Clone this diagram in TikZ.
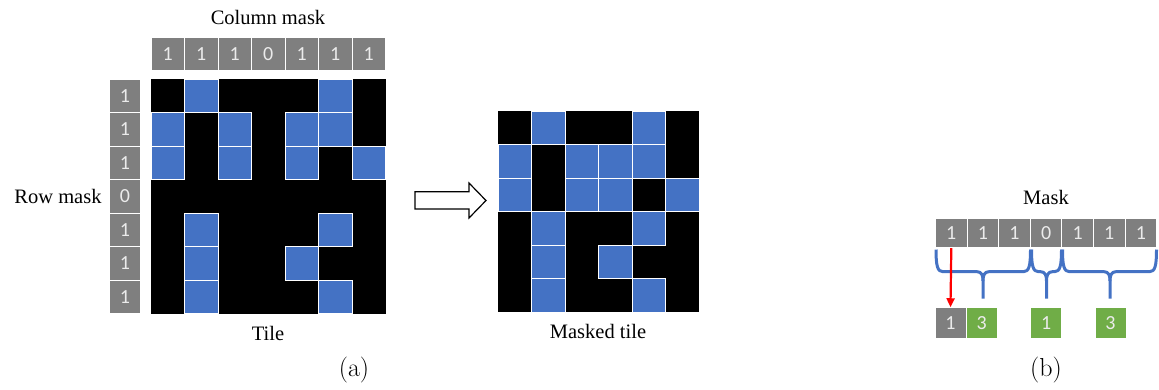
\documentclass[tikz,border=0pt]{standalone}
\usepackage{fontspec}
\newfontfamily\tnr{Liberation Serif}
\newfontfamily\numf{Carlito}
\usetikzlibrary{arrows.meta}
\definecolor{cgray}{HTML}{7F7F7F}
\definecolor{cblue}{HTML}{4472C4}
\definecolor{cgreen}{HTML}{70AD47}
\definecolor{cred}{HTML}{FF0000}
\begin{document}
\begin{tikzpicture}[x=1bp,y=-1bp,
  numcell/.style={draw=white, line width=0.9bp, inner sep=0pt, text=white!92!black,
    font=\numf\fontsize{20bp}{22bp}\selectfont},
  colcell/.style={numcell, fill=cgray, minimum width=33.5bp, minimum height=32.7bp},
  rowcell/.style={numcell, fill=cgray, minimum width=31.7bp, minimum height=33.5bp},
  bcell/.style={numcell, fill=cgray, minimum width=31.6bp, minimum height=29.4bp},
  outcell/.style={numcell, minimum width=31bp, minimum height=30.6bp},
  bluecell/.style={fill=cblue, draw=white, line width=0.8bp, inner sep=0pt, minimum size=33.5bp},
  blackbox/.style={fill=black, draw=none, inner sep=0pt},
  lbl/.style={font=\tnr\fontsize{20.5bp}{24bp}\selectfont, inner sep=0pt},
  captext/.style={font=\fontsize{26bp}{30bp}\selectfont, inner sep=0pt},
  bracepath/.style={draw=cblue, line width=3bp, line join=round},
  hollow/.style={draw=black, fill=white, line width=1.2bp}
]
\useasboundingbox (0,0) rectangle (1159,389);

% ---------- (a) tile ----------
\node[lbl] (colmasklbl) at (268,17) {Column mask};
\foreach \v [count=\i from 0] in {1,1,1,0,1,1,1}
  \node[colcell] (c\i) at ({151+33.5*(\i+0.5)},53.7) {\v};
\node[lbl] (rowmasklbl) at (58,196) {Row mask};
\foreach \v [count=\i from 0] in {1,1,1,0,1,1,1}
  \node[rowcell] (r\i) at (125,{79.3+33.5*(\i+0.5)}) {\v};

\node[blackbox, minimum width=234.5bp, minimum height=234.5bp] (tile) at (268.25,196.55) {};
\foreach \c/\r in {1/0,5/0,0/1,2/1,4/1,5/1,0/2,2/2,4/2,6/2,1/4,5/4,1/5,4/5,1/6,5/6}
  \node[bluecell] (t-\c-\r) at ({151+33.5*(\c+0.5)},{79.3+33.5*(\r+0.5)}) {};
\node[lbl] (tilelbl) at (268,333) {Tile};

% ---------- arrow ----------
\draw[hollow] (415,191.7) -- (469,191.7) -- (469,183) -- (486,200.5) -- (469,218)
  -- (469,209) -- (415,209) -- cycle;

% ---------- masked tile ----------
\node[blackbox, minimum width=201bp, minimum height=201bp] (mtile) at (598.8,211.5) {};
\foreach \c/\r in {1/0,4/0,0/1,2/1,3/1,4/1,0/2,2/2,3/2,5/2,1/3,4/3,1/4,3/4,1/5,4/5}
  \node[bluecell] (m-\c-\r) at ({498.3+33.5*(\c+0.5)},{111+33.5*(\r+0.5)}) {};
\node[lbl] (mtilelbl) at (598,331) {Masked tile};

\node[captext] (capa) at (354,370) {(a)};

% ---------- (b) ----------
\node[lbl] (masklbl) at (1046,197) {Mask};
\foreach \v [count=\i from 0] in {1,1,1,0,1,1,1}
  \node[bcell] (b\i) at ({935.5+31.6*(\i+0.5)},233) {\v};

% braces
\foreach \xa/\xb/\xc in {936/1030.5/983, 1031.5/1061.5/1046.5, 1062.5/1156.5/1110}{
  \draw[bracepath] (\xa,249.5) .. controls (\xa,266) and (\xa+1.5,271.7) .. (\xa+7,271.7)
    -- (\xc-6,271.7) .. controls (\xc-1.5,271.7) and (\xc,275) .. (\xc,281) -- (\xc,298.5);
  \draw[bracepath] (\xc,281) .. controls (\xc,275) and (\xc+1.5,271.7) .. (\xc+6,271.7)
    -- (\xb-7,271.7) .. controls (\xb-1.5,271.7) and (\xb,266) .. (\xb,249.5);
}

\node[outcell, fill=cgray] (o0) at (950.5,323) {1};
\node[outcell, fill=cgreen] (o1) at (981.8,323) {3};
\node[outcell, fill=cgreen] (o2) at (1046.3,323) {1};
\node[outcell, fill=cgreen] (o3) at (1110.5,323) {3};

\draw[cred, line width=2.2bp, -{Triangle[width=8bp,length=9bp]}] (b0.south) -- (o0.north);

\node[captext] (capb) at (1046,370) {(b)};
\end{tikzpicture}
\end{document}
